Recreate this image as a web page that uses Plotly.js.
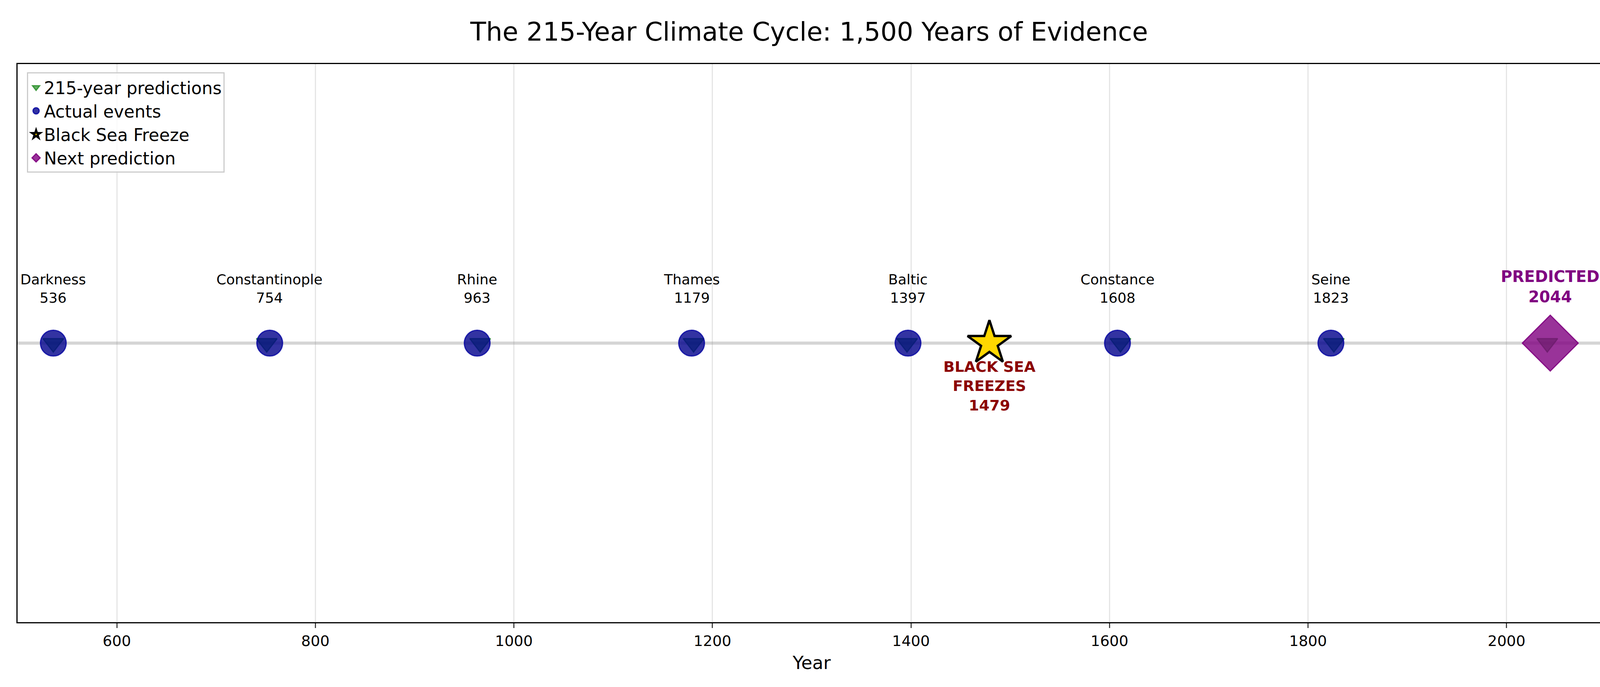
<!DOCTYPE html>
<html>
<head>
<meta charset="utf-8">
<script src="https://cdn.plot.ly/plotly-3.0.1.min.js"></script>
<style>html,body{margin:0;padding:0;background:#fff;overflow:hidden}</style>
</head>
<body>
<div id="plot" style="width:4143px;height:1759px"></div>
<script>
let eventYears = [536, 754, 963, 1179, 1397, 1608, 1823];
let eventNames = ['Darkness', 'Constantinople', 'Rhine', 'Thames', 'Baltic', 'Constance', 'Seine'];
// every 215 years from 536
let predictedYears = [536, 751, 966, 1181, 1396, 1611, 1826, 2041];
let freezeYear = [1479];
let nextYear = [2044];

let zeros = a => a.map(() => 0);
let font = 'DejaVu Sans, Liberation Sans, sans-serif';

let traces = [
    {x: [500, 2100], y: [0, 0], mode: 'lines', line: {color: 'rgba(150,150,150,0.4)', width: 8},
     showlegend: false, hoverinfo: 'skip'},
    {x: predictedYears, y: zeros(predictedYears), mode: 'markers', name: '215-year predictions',
     marker: {symbol: 'triangle-down', size: 46, color: 'rgba(34,139,34,0.7)', line: {color: 'rgba(34,139,34,0.8)', width: 3}}},
    {x: eventYears, y: zeros(eventYears), mode: 'markers', name: 'Actual events',
     marker: {symbol: 'circle', size: 66, color: 'rgba(0,0,139,0.8)', line: {color: 'rgba(0,0,160,0.8)', width: 3}}},
    {x: freezeYear, y: [0], mode: 'markers', name: 'Black Sea Freeze',
     marker: {symbol: 'star', size: 84, color: 'gold', line: {color: 'black', width: 6}}},
    {x: nextYear, y: [0], mode: 'markers', name: 'Next prediction',
     marker: {symbol: 'diamond', size: 110, color: 'rgba(128,0,128,0.8)', line: {color: 'rgba(128,0,128,0.9)', width: 3}}}
];

let annotations = [];
for (let i = 0; i < eventYears.length; i++) {
    annotations.push({x: eventYears[i], y: 0, text: eventNames[i] + '<br>' + eventYears[i],
        showarrow: false, yshift: 140, font: {family: font, size: 36, color: 'black'}});
}
annotations.push({x: freezeYear[0], y: 0, text: 'BLACK SEA<br>FREEZES<br>' + freezeYear[0],
    showarrow: false, yshift: -110, font: {family: font, size: 38, color: '#8b0000', weight: 'bold'}});
annotations.push({x: nextYear[0], y: 0, text: 'PREDICTED<br>' + nextYear[0],
    showarrow: false, yshift: 145, font: {family: font, size: 40, color: 'purple', weight: 'bold'}});

let layout = {
    width: 4143, height: 1759,
    margin: {l: 45, r: 32, t: 164, b: 166},
    paper_bgcolor: 'white', plot_bgcolor: 'white',
    font: {family: font, size: 38, color: 'black'},
    title: {text: 'The 215-Year Climate Cycle: 1,500 Years of Evidence', x: 0.5, y: 0.967,
        font: {family: font, size: 66}},
    xaxis: {range: [500, 2100], tickvals: [600, 800, 1000, 1200, 1400, 1600, 1800, 2000],
        showgrid: true, gridcolor: 'rgba(0,0,0,0.1)', gridwidth: 3, zeroline: false,
        showline: true, linecolor: 'black', linewidth: 3, mirror: true,
        ticks: 'outside', ticklen: 12, tickwidth: 3, tickfont: {size: 38},
        title: {text: 'Year', font: {size: 46}, standoff: 20}},
    yaxis: {range: [-1, 1], showticklabels: false, showgrid: false, zeroline: false,
        showline: true, linecolor: 'black', linewidth: 3, mirror: true, ticks: ''},
    legend: {x: 0.006, y: 0.985, xanchor: 'left', yanchor: 'top', bgcolor: 'rgba(255,255,255,0.8)',
        bordercolor: '#cccccc', borderwidth: 3, font: {size: 44}, itemsizing: 'trace'},
    annotations: annotations,
    showlegend: true
};

Plotly.newPlot('plot', traces, layout, {staticPlot: true});
</script>
</body>
</html>
